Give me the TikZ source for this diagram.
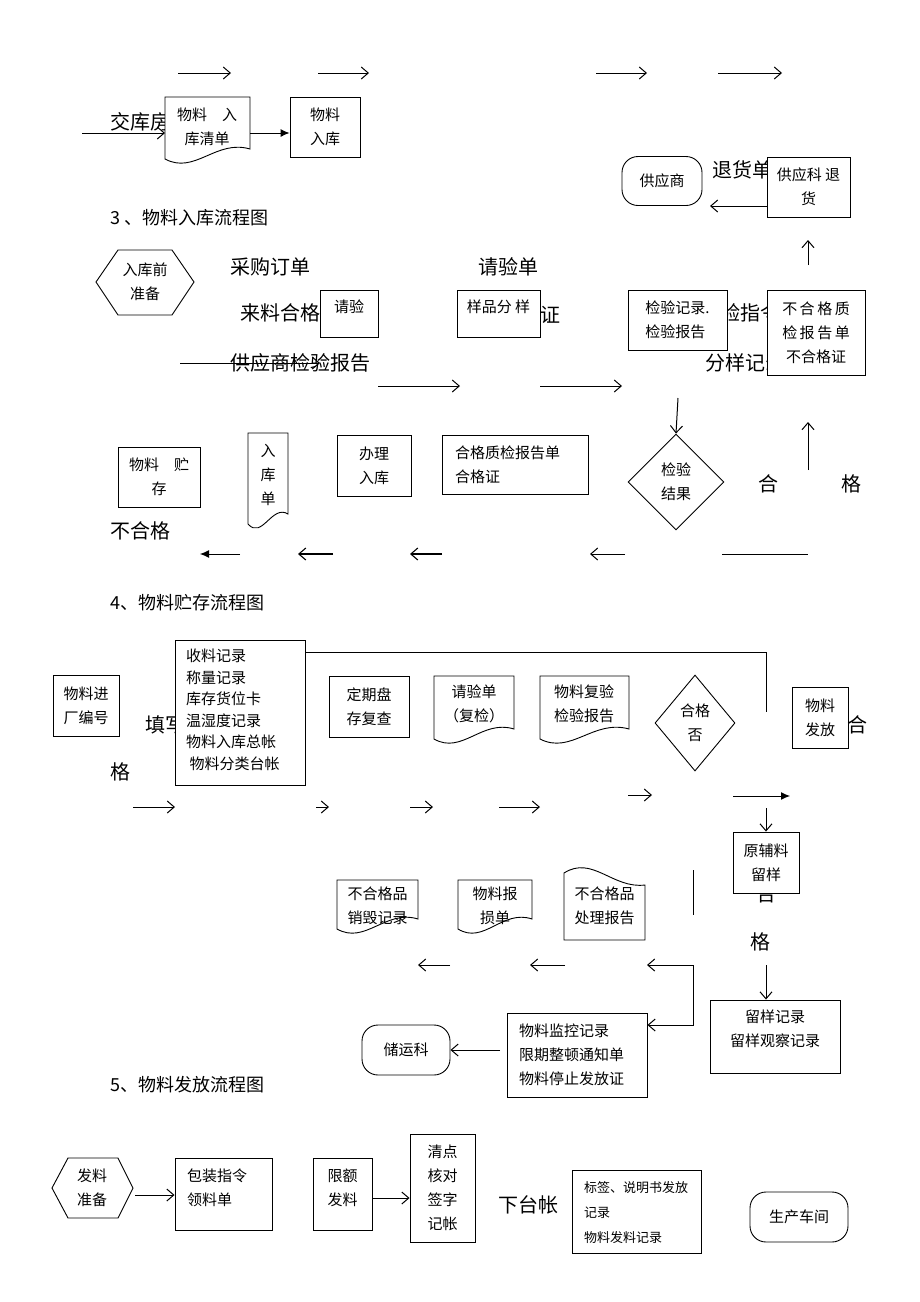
\documentclass[tikz,border=0pt]{standalone}
\usepackage{fontspec}
\setmainfont{Noto Sans CJK SC}
\usetikzlibrary{arrows.meta,shapes.geometric}
\newcommand\docw[4]{% x1 y1 x2 y2, wavy bottom
  \draw[fill=white,line width=0.9pt] (#1,{#4-6}) -- (#1,#2) -- (#3,#2) -- (#3,{#4-16})
    .. controls ({#1+0.6*(#3-#1)},{#4-26}) and ({#1+0.35*(#3-#1)},{#4+10}) .. cycle;}
\newcommand\doct[4]{% x1 y1 x2 y2, wavy top
  \draw[fill=white,line width=0.9pt] (#1,{#2+6}) .. controls ({#1+0.35*(#3-#1)},{#2-12}) and ({#1+0.6*(#3-#1)},{#2+22}) .. (#3,{#2+18}) -- (#3,#4) -- (#1,#4) -- cycle;}
\begin{document}
\begin{tikzpicture}[x=1pt,y=-1pt,
  box/.style={draw,fill=white,line width=0.9pt,inner sep=0pt,align=center,font=\fontsize{15}{24}\selectfont},
  tx/.style={inner sep=0pt,align=center,font=\fontsize{15}{24}\selectfont},
  big/.style={inner sep=0pt,anchor=west,font=\fontsize{20}{24}\selectfont},
  head/.style={inner sep=0pt,anchor=west,font=\fontsize{18}{22}\selectfont},
  ar/.style={-{Straight Barb[length=7pt,width=12pt]},line width=1pt},
  arf/.style={-{Latex[length=9pt,width=8pt]},line width=1pt},
  ln/.style={line width=1pt}]
\useasboundingbox[fill=white] (0,0) rectangle (920,1302);

% ---------- section top ----------
\draw[ar] (178,73) -- (231,73);
\draw[ar] (318,73) -- (369,73);
\draw[ar] (596,73) -- (647,73);
\draw[ar] (718,73) -- (782,73);
\node[big] (jkf) at (110,122) {交库房};
\docw{165}{97}{250}{165}
\node[tx] (d1) at (207,127) {物料\quad 入\\库清单};
\node[box,minimum width=70,minimum height=60] (wlrk) at (325,127) {物料\\入库};
\coordinate (in1) at (82,133);
\draw[ar] (in1) -- (165,133);
\draw[arf] (250,133) -- (wlrk.west|-0,133);
\node[draw,line width=0.9pt,rounded corners=16pt,minimum width=80,minimum height=49,tx] (gys) at (662,181) {供应商};
\node[big] (thd) at (712,170) {退货单};
\node[box,minimum width=83,minimum height=60] (gykth) at (808.5,187) {供应科 退\\货};
\draw[ar] (gykth.west|-0,206) -- (710,206);
\node[head] (h3) at (110,218) {3 、物料入库流程图};

% ---------- section 3 ----------
\draw[ar] (808,265) -- (808,240);
\draw[line width=0.9pt] (96,282) -- (118,250) -- (172,250) -- (194,282) -- (172,315) -- (118,315) -- cycle;
\node[tx] (rkq) at (145,282) {入库前\\准备};
\node[big] (cgdd) at (230,267) {采购订单};
\node[big] (qyd1) at (478,267) {请验单};
\node[big] (llhg) at (240,313) {来料合格证};
\node[box,minimum width=58,minimum height=47] (qy) at (349,313.5) {};
\node[tx] at (349,307) {请验};
\node[big] (qyz) at (500,315) {取样证};
\node[box,minimum width=83,minimum height=47] (ypfy) at (498.5,313.5) {};
\node[tx] at (498.5,307) {样品分 样};
\node[big] (jyzl) at (700,313) {检验指令};
\node[big] (fyjl) at (705,363) {分样记录};
\node[box,minimum width=99,minimum height=60,align=left] (jyjl) at (677.5,320) {检验记录.\\检验报告};
\node[box,minimum width=98,minimum height=85] (bhg) at (816,332.5) {不\,合\,格\,质\\检\,报\,告\,单\\不合格证};
\node[big] (gysjy) at (230,363) {供应商检验报告};
\coordinate (s1) at (180,363);
\draw[ar] (s1) -- (320,363);
\draw[ar] (378,386) -- (460,386);
\draw[ar] (540,386) -- (622,386);

\node[draw,diamond,aspect=1,line width=0.9pt,minimum width=96,minimum height=96,inner sep=0pt,tx] (jyjg) at (676,482) {检验\\结果};
\draw[ar] (678,398) -- (jyjg.north);
\node[big,anchor=center] at (768,484) {合};
\node[big,anchor=center] at (851,484) {格};
\draw[ar] (808,470) -- (808,422);
\draw[ln] (722,554) -- (808,554);
\draw[ar] (625,554) -- (590,554);
\draw[ar,line width=1.1pt] (442,554) -- (410,554);
\draw[ar,line width=1.1pt] (333,554) -- (298,554);
\draw[arf] (240,554) -- (200,554);
\node[box,minimum width=82,minimum height=60] (wlzc) at (159,477) {物料\quad 贮\\存};
\docw{248}{433}{288}{530}
\node[tx] (rkd) at (268,475) {入\\库\\单};
\node[box,minimum width=74,minimum height=61] (blrk) at (374,465.5) {办理\\入库};
\node[box,minimum width=146,minimum height=59] (hgzj) at (515,464.5) {};
\node[tx,anchor=west,align=left] at (455,464.5) {合格质检报告单\\合格证};
\node[big] (bhg2) at (110,531) {不合格};

% ---------- section 4 ----------
\node[head] (h4) at (110,603) {4、物料贮存流程图};
\node[box,minimum width=66,minimum height=61] (wljc) at (86,706) {物料进\\厂编号};
\node[big] (txie) at (145,725) {填写};
\node[box,minimum width=130,minimum height=145] (zb) at (240,712.5) {};
\node[tx,anchor=west,align=left,font=\fontsize{15}{21.5}\selectfont] at (186,710) {收料记录\\称量记录\\库存货位卡\\温湿度记录\\物料入库总帐\\\ 物料分类台帐};
\draw[ln] (zb.east|-0,652) -- (766,652) -- (766,712);
\node[big,anchor=center] at (120,772) {格};
\node[box,minimum width=80,minimum height=61] (dqpc) at (369,706.5) {定期盘\\存复查};
\docw{434}{676}{514}{745}
\node[tx] (qyd2) at (474,704) {请验单\\（复检）};
\docw{540}{676}{629}{745}
\node[tx] (wlfy) at (584,704) {物料复验\\检验报告};
\node[draw,diamond,line width=0.9pt,minimum width=80,minimum height=96,inner sep=0pt,aspect=0.83,tx] (hgf) at (695,723) {合格\\否};
\node[box,minimum width=56,minimum height=61] (wlff) at (820,717.5) {物料\\发放};
\node[big,anchor=center] at (857,725) {合};
\draw[ar] (133,807) -- (175,807);
\draw[ar] (316,807) -- (329,807);
\draw[ar] (410,807) -- (433,807);
\draw[ar] (499,807) -- (540,807);
\draw[ar] (628,795) -- (652,795);
\draw[arf] (733,796) -- (790,796);
\node[big,anchor=center] at (766,894) {合};
\node[box,minimum width=66,minimum height=61] (yfl) at (766,862.5) {原辅料\\留样};
\draw[ar] (766,808) -- (yfl.north);
\node[big,anchor=center] at (760,942) {格};
\draw[ln] (693,870) -- (693,915);
\node[box,minimum width=130,minimum height=73] (lyjl) at (775,1036.5) {};
\node[tx] at (775,1029) {留样记录\\留样观察记录};
\coordinate (ly0) at (766,965);
\draw[ar] (ly0) -- (ly0|-lyjl.north);
\docw{337}{880}{418}{935}
\node[tx] (xh) at (377.5,906) {不合格品\\销毁记录};
\docw{458}{880}{532}{935}
\node[tx] (bs) at (495,906) {物料报\\损单};
\doct{564}{867}{645}{940}
\node[tx] (cl) at (604.5,906) {不合格品\\处理报告};
\draw[ar] (450,965) -- (418,965);
\draw[ar] (565,965) -- (530,965);
\node[box,minimum width=140,minimum height=84] (jk) at (577,1055) {};
\node[tx,anchor=west,align=left] at (519,1055) {物料监控记录\\限期整顿通知单\\物料停止发放证};
\coordinate (br) at (693,965);
\draw[ar] (br) -- (647,965);
\draw[ar] (br) -- (693,1025) -- (jk.east|-0,1025);
\node[draw,line width=0.9pt,rounded corners=16pt,minimum width=88,minimum height=50,tx] (cyk) at (406,1050) {储运科};
\draw[ar] (500,1050) -- (cyk.east);
\node[head] (h5) at (110,1085) {5、物料发放流程图};

% ---------- section 5 ----------
\draw[line width=0.9pt] (52,1188) -- (68,1158) -- (118,1158) -- (133,1188) -- (118,1218) -- (68,1218) -- cycle;
\node[tx] (flzb) at (92,1188) {发料\\准备};
\node[box,minimum width=97,minimum height=72] (bz) at (223.5,1194) {};
\node[tx,anchor=west,align=left] at (187,1188) {包装指令\\领料单};
\draw[ar] (135,1195) -- (bz.west|-0,1195);
\node[box,minimum width=59,minimum height=72] (xe) at (342.5,1194) {};
\node[tx] at (342.5,1188) {限额\\发料};
\node[box,minimum width=65,minimum height=108] (qd) at (442.5,1188) {清点\\核对\\签字\\记帐};
\draw[ar] (xe.east|-0,1198) -- (qd.west|-0,1198);
\node[big] (xtz) at (498,1205) {下台帐};
\node[box,minimum width=129,minimum height=83] (bq) at (636.5,1211.5) {};
\node[tx,anchor=west,align=left,font=\fontsize{13}{25}\selectfont] at (584,1213) {标签、说明书发放\\记录\\物料发料记录};
\node[draw,line width=0.9pt,rounded corners=16pt,minimum width=98,minimum height=50,tx] (scj) at (799,1217) {生产车间};
\end{tikzpicture}
\end{document}
